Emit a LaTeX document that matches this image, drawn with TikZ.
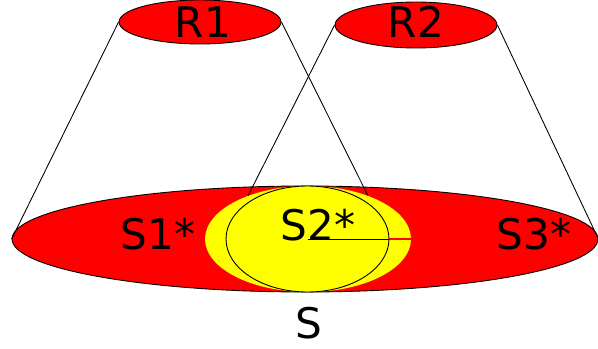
\documentclass[tikz,border=0pt]{standalone}
\usepackage{fontspec}
\setmainfont{DejaVu Sans}
\usetikzlibrary{shapes.geometric}
\definecolor{coreyellow}{RGB}{255,255,0}

\begin{document}
\begin{tikzpicture}[
        x=0.02cm, y=-0.02cm,
        every node/.style={font=\fontsize{24}{28}\selectfont, inner sep=0pt},
        region/.style={ellipse, draw, fill=red, line width=0.5pt},
        big/.style={region, minimum width=11.72cm, minimum height=2.12cm},
        small/.style={region, minimum width=3.24cm, minimum height=0.88cm},
        core/.style={ellipse, fill=coreyellow, minimum width=4.12cm, minimum height=2.12cm},
        rim/.style={ellipse, draw, line width=0.5pt, minimum width=3.26cm, minimum height=2.12cm},
        line/.style={-, line width=0.5pt}
    ]
    \useasboundingbox (0,0) rectangle (598,348);
%
    % Ensemble S
    \node[big] (s) at (305,239) {};
    \node[core] (ys) at (308,239) {};
    \node[rim] (c) at (307.5,239) {};
    \draw[line] (c.center) -- (c.east);
    \draw[red, line width=0.6pt] (c.east) -- (ys.east);
%
    % Ensembles R1 et R2
    \node[small] (r1) at (200,22) {};
    \node[small, minimum height=0.92cm] (r2) at (416,25) {};
%
    % Lignes R vers S
    \draw[line] (r1.west) -- (s.west);
    \draw[line] (r1.east) -- (ys.36);
    \draw[line] (r2.west) -- (ys.144);
    \draw[line] (r2.east) -- (s.east);
%
    % Etiquettes
    \node (t1) at (203,22) {R1};
    \node (t2) at (416,22) {R2};
    \node (s1) at (158,234) {S1*};
    \node (s2) at (318,225) {S2*};
    \node (s3) at (534,234) {S3*};
    \node (lbl) at (309,323) {S};
%
\end{tikzpicture}
\end{document}
